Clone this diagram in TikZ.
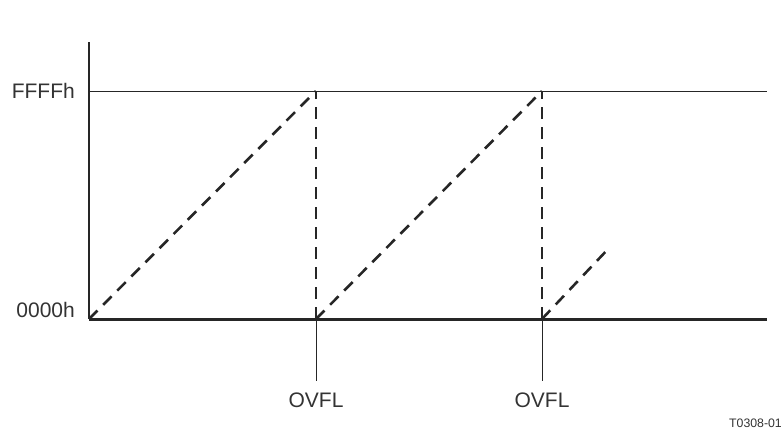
\documentclass[tikz,border=0pt]{standalone}
\usepackage{fontspec}
\setmainfont{Liberation Sans}
\begin{document}
\begin{tikzpicture}[x=1pt,y=-1pt,
  axis/.style={line width=2pt,black!85},
  thin/.style={line width=1pt,black!85},
  ramp/.style={line width=2.6pt,black!85,dash pattern=on 12pt off 8pt},
  lbl/.style={font=\fontsize{21}{23}\selectfont,text=black!80,inner sep=0pt}]
\useasboundingbox (0,0) rectangle (782,429);
\coordinate (top) at (89,42);
\coordinate (o) at (89,319);
\coordinate (fa) at (89,91);
\coordinate (fe) at (767,91);
\coordinate (be) at (767,319);
\coordinate (p1) at (316,91);
\coordinate (q1) at (316,319);
\coordinate (p2) at (542,91);
\coordinate (q2) at (542,319);
\coordinate (r3) at (610,247);
\coordinate (d1) at (316,381);
\coordinate (d2) at (542,381);
\draw[thin] (fa) -- (fe);
\draw[thin] (q1) -- (d1);
\draw[thin] (q2) -- (d2);
\draw[ramp] (o) -- (p1);
\draw[ramp] (q1) -- (p1);
\draw[ramp] (q1) -- (p2);
\draw[ramp] (q2) -- (p2);
\draw[ramp] (q2) -- (r3);
\draw[axis] (top) -- (o);
\draw[line width=3pt,black!85] (o) -- (be);
\node[lbl,anchor=base east] (ffff) at (75,98) {FFFFh};
\node[lbl,anchor=base east] (zero) at (75,317.5) {0000h};
\node[lbl,anchor=north] (ov1) at ([yshift=-12pt]d1) {OVFL};
\node[lbl,anchor=north] (ov2) at ([yshift=-12pt]d2) {OVFL};
\node[font=\fontsize{12.3}{14}\selectfont,text=black!80,anchor=base east,inner sep=0pt] (tag) at (782,427) {T0308-01};
\end{tikzpicture}
\end{document}
